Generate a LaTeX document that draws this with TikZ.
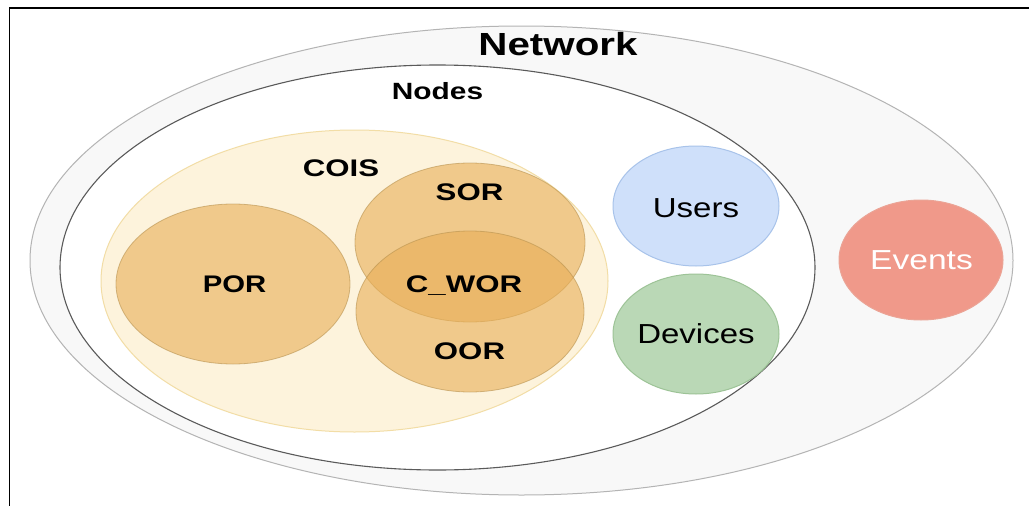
\documentclass[tikz,border=0pt]{standalone}
\usepackage{fontspec}
\setmainfont{Liberation Sans}
\usetikzlibrary{shapes.geometric}
\definecolor{netfill}{HTML}{F8F8F8}
\definecolor{netdraw}{HTML}{B4B4B4}
\definecolor{nodesdraw}{HTML}{5A5A5A}
\definecolor{coisfill}{HTML}{FDF3DC}
\definecolor{coisdraw}{HTML}{F2DDA6}
\definecolor{orfill}{HTML}{E8AE56}
\definecolor{ordraw}{HTML}{B8924F}
\definecolor{usersfill}{HTML}{CFE0FA}
\definecolor{usersdraw}{HTML}{A8C3EA}
\definecolor{devfill}{HTML}{BAD8B6}
\definecolor{devdraw}{HTML}{9DC397}
\definecolor{evfill}{HTML}{F0998A}
\definecolor{evdraw}{HTML}{EBA496}
\tikzset{
  blob/.style={ellipse, inner sep=0pt, outer sep=0pt},
  orblob/.style={blob, fill=orfill, fill opacity=0.6, draw=ordraw, draw opacity=0.6, line width=0.8pt},
  boldlbl/.style={inner sep=0pt, font=\bfseries\fontsize{24}{29}\selectfont},
  reglbl/.style={inner sep=0pt, font=\fontsize{27.5}{33}\selectfont},
}
\begin{document}
\begin{tikzpicture}[x=1pt,y=-1pt]
\useasboundingbox (0,0) rectangle (1029,506);
\fill[white] (0,0) rectangle (1029,506);
\coordinate (fa) at (9.5,506);
\coordinate (fb) at (9.5,8);
\coordinate (fc) at (1029,8);
\draw[black, line width=1.2pt] (fa) -- (fb) -- (fc);
% Network
\node[blob, fill=netfill, draw=netdraw, line width=1pt, minimum width=983pt, minimum height=469pt] (net) at (521.5,260.5) {};
\node[inner sep=0pt, font=\bfseries\fontsize{32}{38}\selectfont] (netlbl) at (558,44.5) {\scalebox{1.26}[1]{Network}};
% Nodes
\node[blob, fill=white, draw=nodesdraw, line width=1.1pt, minimum width=755pt, minimum height=405pt] (nodes) at (437.5,267.5) {};
\node[boldlbl, font=\bfseries\fontsize{23.5}{28}\selectfont] (nodeslbl) at (437.5,91.5) {\scalebox{1.27}[1]{Nodes}};
% COIS
\node[blob, fill=coisfill, draw=coisdraw, line width=1pt, minimum width=507pt, minimum height=302pt] (cois) at (354.5,281) {};
\node[boldlbl] (coislbl) at (341,168) {\scalebox{1.3}[1]{COIS}};
% POR SOR OOR
\node[orblob, minimum width=234pt, minimum height=160pt] (por) at (233,284) {};
\node[orblob, minimum width=230pt, minimum height=159pt] (sor) at (470,242.5) {};
\node[orblob, minimum width=228pt, minimum height=161pt] (oor) at (470,311.5) {};
\node[boldlbl] (porlbl) at (234.5,284) {\scalebox{1.22}[1]{POR}};
\node[boldlbl] (sorlbl) at (469.5,192) {\scalebox{1.3}[1]{SOR}};
\node[boldlbl] (cworlbl) at (464,286) {\scalebox{1.3}[1]{C\_WOR}};
\node[boldlbl] (oorlbl) at (469.5,351) {\scalebox{1.3}[1]{OOR}};
% Users, Devices
\node[blob, fill=usersfill, draw=usersdraw, line width=1pt, minimum width=166pt, minimum height=120pt] (users) at (696,206) {};
\node[reglbl] (userslbl) at (696,208) {\scalebox{1.2}[1]{Users}};
\node[blob, fill=devfill, draw=devdraw, line width=1pt, minimum width=166pt, minimum height=120pt] (devices) at (696,334) {};
\node[reglbl] (deviceslbl) at (696,334) {\scalebox{1.2}[1]{Devices}};
% Events
\node[blob, fill=evfill, draw=evdraw, line width=1pt, minimum width=164pt, minimum height=120pt] (events) at (921,260) {};
\node[reglbl, text=white] (eventslbl) at (921.5,260) {\scalebox{1.22}[1]{Events}};
\end{tikzpicture}
\end{document}
